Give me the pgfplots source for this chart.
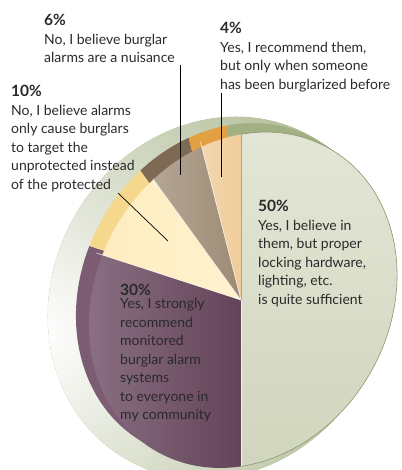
\documentclass[border=0pt]{standalone}
\usepackage{pgfplots}
\pgfplotsset{compat=1.18}
\usepackage{pgfplotstable}
\usepackage{fontspec}
\setmainfont{Lato}

\definecolor{shadowgreen}{HTML}{9DAB7C}
\definecolor{txt}{HTML}{2A2A2A}
\definecolor{fA1}{HTML}{F1F2E9}\definecolor{fA2}{HTML}{C3C9AA}
\definecolor{fB1}{HTML}{D3C4CF}\definecolor{fB2}{HTML}{634359}
\definecolor{fC1}{HTML}{FBE2A0}\definecolor{fC2}{HTML}{FFF2CF}
\definecolor{fD1}{HTML}{E3DCD1}\definecolor{fD2}{HTML}{9C8A74}
\definecolor{fE1}{HTML}{F8ECDF}\definecolor{fE2}{HTML}{F0CC98}
\definecolor{rA}{HTML}{A3B083}
\definecolor{rB}{HTML}{7C5C72}
\definecolor{rC}{HTML}{F5D88E}
\definecolor{rD}{HTML}{7E6A52}
\definecolor{rE}{HTML}{E3A043}

\pgfplotstableread{
pct
50
30
10
6
4
}\piedata

\newcommand\lbl{\fontsize{14}{18.5}\selectfont}
\newcommand\num[1]{{\fontsize{15.5}{18.5}\selectfont\bfseries #1}}
% face ellipse: semi-axes 174.4 (at 60 deg) and 146.7
\newcommand\faceellipse[2]{\pgfpathellipse{\pgfplotspointaxisxy{#1}{#2}}{\pgfpoint{87.2pt}{151.0pt}}{\pgfpoint{-127.0pt}{73.35pt}}}
% slice: #1,#2 pie centre; #3,#4 ellipse centre; #5,#6 angles; #7 shading options
\newcommand\slice[7]{%
  \pgfplotsextra{\begin{pgfscope}%
  \faceellipse{#3}{#4}\pgfusepath{clip}%
  \shade[#7] (axis cs:#1,#2) -- ++(#5:430pt) arc[start angle=#5, end angle=#6, radius=430pt] -- cycle;
  \end{pgfscope}}}

\begin{document}
\begin{tikzpicture}
\pgfplotstablegetelem{0}{pct}\of\piedata \let\pA\pgfplotsretval
\pgfplotstablegetelem{1}{pct}\of\piedata \let\pB\pgfplotsretval
\pgfplotstablegetelem{2}{pct}\of\piedata \let\pC\pgfplotsretval
\pgfplotstablegetelem{3}{pct}\of\piedata \let\pD\pgfplotsretval
\pgfplotstablegetelem{4}{pct}\of\piedata \let\pE\pgfplotsretval
\pgfmathsetmacro\aA{90}
\pgfmathsetmacro\aB{\aA-3.6*\pA}
\pgfmathsetmacro\aC{\aB-3.6*\pB}
\pgfmathsetmacro\aD{\aC-3.6*\pC}
\pgfmathsetmacro\aE{\aD-3.6*\pD}
\pgfmathsetmacro\aF{\aE-3.6*\pE}
\begin{axis}[x=1pt, y=1pt, scale only axis, xmin=0, xmax=401, ymin=0, ymax=470,
  y dir=reverse, hide axis, clip=false]
% shadow
\pgfplotsextra{\begin{pgfscope}%
\pgfpathellipse{\pgfplotspointaxisxy{219}{298}}{\pgfpoint{93pt}{161.1pt}}{\pgfpoint{-143.8pt}{83pt}}%
\pgfusepath{clip}%
\fill[shadowgreen] (axis cs:0,90) rectangle (axis cs:401,495);
\shade[inner color=white, outer color=shadowgreen] (axis cs:40,335) circle [radius=440pt];
\end{pgfscope}}
% rim (side of the disc)
\slice{228}{291}{230}{291}{\aA}{\aB}{left color=rA, right color=rA}
\slice{228}{291}{230}{291}{\aB}{\aC}{left color=rB, right color=rB}
\slice{228}{291}{230}{291}{\aC}{\aD}{left color=rC, right color=rC}
\slice{228}{291}{230}{291}{\aD}{\aE}{left color=rD, right color=rD}
\slice{228}{291}{230}{291}{\aE}{\aF}{left color=rE, right color=rE}
% face
\slice{241}{300}{243}{300}{\aA}{\aB}{top color=fA1, bottom color=fA2}
\slice{241}{300}{243}{300}{\aB}{\aC}{left color=fB1, right color=fB2}
\slice{241}{300}{243}{300}{\aC}{\aD}{left color=fC1, right color=fC2}
\slice{241}{300}{243}{300}{\aD}{\aE}{left color=fD1, right color=fD2}
\slice{241}{300}{243}{300}{\aE}{\aF}{left color=fE1, right color=fE2}
\pgfplotsextra{\begin{pgfscope}%
\path[clip] (axis cs:241,300) -- ++(\aA:430pt) arc[start angle=\aA, end angle=\aB, radius=430pt] -- cycle;
\faceellipse{243}{300}\pgfsetlinewidth{0.6pt}\pgfsetstrokecolor{rA!85!black}\pgfusepath{stroke}%
\end{pgfscope}}
\draw[white, line width=0.6pt, opacity=0.8] (axis cs:241,300) -- ++(\aB:166pt);
\draw[white, line width=0.6pt, opacity=0.8] (axis cs:241,300) -- ++(\aC:152pt);
\draw[white, line width=0.6pt, opacity=0.8] (axis cs:241,300) -- ++(\aD:150pt);
\draw[white, line width=0.6pt, opacity=0.8] (axis cs:241,300) -- ++(\aE:163pt);
\draw[gray!70, line width=0.5pt] (axis cs:241,300) -- ++(\aA:166pt);
% leader lines
\draw[black, line width=0.7pt] (axis cs:180,65) -- (axis cs:180,175);
\draw[black, line width=0.7pt] (axis cs:221,93) -- (axis cs:221,177);
\draw[black, line width=0.7pt] (axis cs:118,193) -- (axis cs:168,241);
% labels
\node[anchor=north west, inner sep=0pt, align=left, font=\lbl, text=txt] at (axis cs:44,14)
  {\num{6\%}\\No, I believe burglar\\alarms are a nuisance};
\node[anchor=north west, inner sep=0pt, align=left, font=\lbl, text=txt] at (axis cs:11,85)
  {\num{10\%}\\No, I believe alarms\\only cause burglars\\to target the\\unprotected instead\\of the protected};
\node[anchor=north west, inner sep=0pt, align=left, font=\lbl, text=txt] at (axis cs:220,22)
  {\num{4\%}\\Yes, I recommend them,\\but only when someone\\has been burglarized before};
\node[anchor=north west, inner sep=0pt, align=left, font=\lbl, text=txt] at (axis cs:258,200)
  {\num{50\%}\\Yes, I believe in\\them, but proper\\locking hardware,\\lighting, etc.\\is quite sufficient};
\node[anchor=north west, inner sep=0pt, align=left, font=\lbl, text=txt] at (axis cs:120,284)
  {\num{30\%}\\[-5.5pt]Yes, I strongly\\recommend\\monitored\\burglar alarm\\systems\\to everyone in\\my community};
\end{axis}
\pgfresetboundingbox
\path (current axis.south west) rectangle (current axis.north east);
\end{tikzpicture}
\end{document}
